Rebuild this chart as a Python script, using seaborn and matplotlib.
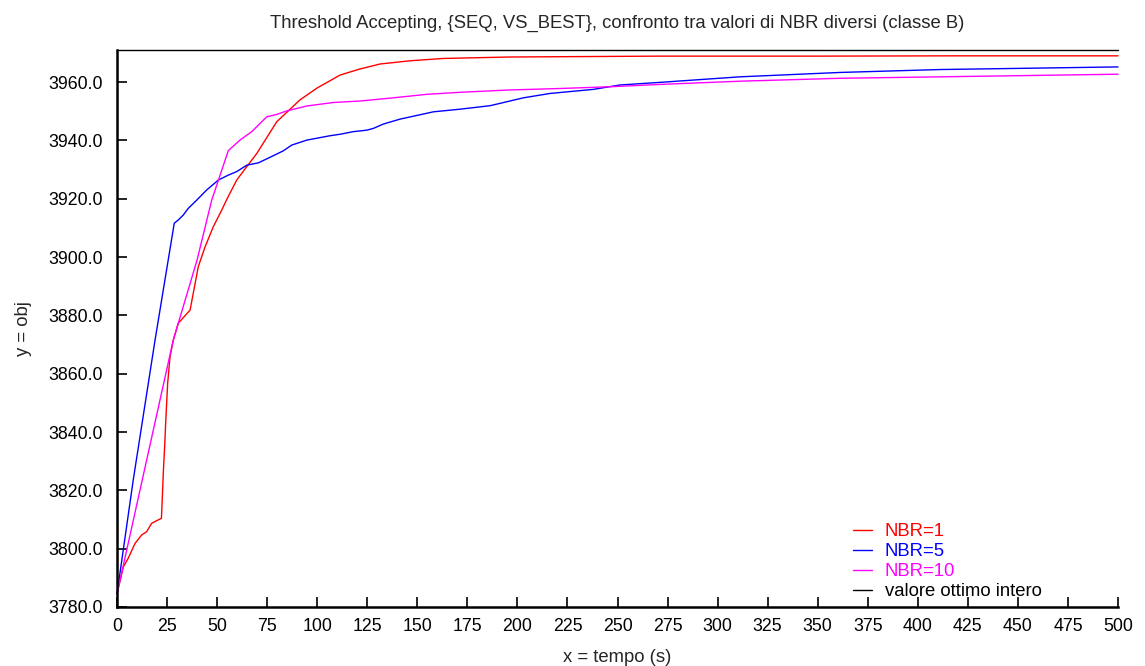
import numpy as np
import pandas as pd
import matplotlib
matplotlib.use("Agg")
import matplotlib.pyplot as plt
import seaborn as sns

# Best objective value over time for each neighbourhood size
t_nbr1 = [0, 3.2, 5.6, 9, 12.3, 14.8, 17.3, 19.8, 22.2, 23.2, 23.8, 24.3, 25.3, 26.5,
          28.1, 30.6, 36.5, 38.1, 40.6, 44, 48.1, 52.3, 55, 59.8, 64.8, 69.8, 79.8,
          91.4, 99.8, 111.4, 121.4, 131.4, 146.4, 163, 196.3, 271.2, 350, 420, 500]
obj_nbr1 = [3784.5, 3793.8, 3796.7, 3801.8, 3804.7, 3805.8, 3808.7, 3809.6, 3810.4,
            3827.0, 3835.0, 3843.0, 3856.7, 3865.8, 3871.5, 3877.3, 3881.8, 3887.6,
            3896.7, 3903.5, 3910.4, 3916.1, 3920.0, 3926.4, 3931.0, 3935.5, 3946.4,
            3953.9, 3957.9, 3962.4, 3964.5, 3966.2, 3967.3, 3968.1, 3968.6, 3968.9,
            3968.9, 3969.0, 3969.0]

t_nbr5 = [0, 8.1, 19, 28.6, 30.6, 33.1, 35.6, 39.8, 44.8, 50.6, 55.6, 59.8, 64.8, 70.6,
          76.4, 83, 87.3, 94.8, 106.4, 111.4, 118, 124.7, 128, 133, 141.4, 158, 171.3,
          186.3, 191.3, 203, 216.3, 238, 251.2, 271.2, 311.2, 361.1, 391, 411, 500]
obj_nbr5 = [3784.5, 3823.5, 3871.5, 3911.6, 3912.7, 3914.4, 3916.7, 3919.5, 3923.0,
            3926.4, 3928.1, 3929.3, 3931.5, 3932.3, 3934.2, 3936.4, 3938.4, 3940.1,
            3941.6, 3942.1, 3943.0, 3943.5, 3944.1, 3945.6, 3947.3, 3949.8, 3950.7,
            3951.9, 3952.7, 3954.6, 3956.1, 3957.5, 3959.0, 3959.9, 3961.8, 3963.3,
            3963.9, 3964.3, 3965.2]

t_nbr10 = [0, 12.3, 28.1, 40, 47.3, 55.6, 61.4, 67.3, 74.8, 79.8, 84.8, 94.8, 108,
           121.4, 138, 154.7, 171.3, 196.3, 221.3, 246.3, 271.2, 311.2, 361.1, 411, 500]
obj_nbr10 = [3784.5, 3822.6, 3871.5, 3899.0, 3919.5, 3936.5, 3940.1, 3943.0, 3948.1,
             3948.9, 3950.1, 3951.8, 3953.0, 3953.5, 3954.6, 3955.8, 3956.5, 3957.3,
             3957.8, 3958.4, 3959.2, 3960.3, 3961.3, 3961.8, 3962.7]

t_opt = [0, 500]
obj_opt = [3971.0, 3971.0]

series_labels = ["NBR=1", "NBR=5", "NBR=10", "valore ottimo intero"]
series_colors = ["#ff0000", "#0000ff", "#ff00ff", "#000000"]

y_ticks = [3780, 3800, 3820, 3840, 3860, 3880, 3900, 3920, 3940, 3960]
x_ticks = list(range(0, 501, 25))

frames = []
for lab, t, v in zip(series_labels,
                     [t_nbr1, t_nbr5, t_nbr10, t_opt],
                     [obj_nbr1, obj_nbr5, obj_nbr10, obj_opt]):
    frames.append(pd.DataFrame({"tempo": t, "obj": v, "serie": lab}))
df = pd.concat(frames, ignore_index=True)

FS = 13.3
TICK_FS = 12.8

sns.set_theme(style="ticks")
plt.rcParams["font.family"] = ["Liberation Sans", "DejaVu Sans"]
plt.rcParams["font.size"] = FS

fig = plt.figure(figsize=(11.45, 6.66), dpi=100)
ax = fig.add_axes([117 / 1145, 1 - 607 / 666, 1001 / 1145, 557 / 666])

sns.lineplot(data=df, x="tempo", y="obj", hue="serie", hue_order=series_labels,
             palette=dict(zip(series_labels, series_colors)), sort=False,
             estimator=None, linewidth=1.0, ax=ax, legend=False)

for line in ax.get_lines():
    line.set_clip_on(False)

ax.set_xlim(0, 500)
ax.set_ylim(3780, 3971)
ax.set_xticks(x_ticks)
ax.set_yticks(y_ticks)
ax.set_yticklabels([f"{v:.1f}" for v in y_ticks])
ax.tick_params(axis="both", direction="in", length=7, width=1.2, colors="black",
               labelsize=TICK_FS, top=False, right=False)
ax.tick_params(axis="x", pad=8)
ax.tick_params(axis="y", pad=10)
for side in ["top", "right"]:
    ax.spines[side].set_visible(False)
for side in ["left", "bottom"]:
    ax.spines[side].set_color("black")
    ax.spines[side].set_linewidth(1.8)

ax.set_xlabel("x = tempo (s)", fontsize=FS, labelpad=10)
ax.set_ylabel("y = obj", fontsize=FS, labelpad=12)
ax.set_title("Threshold Accepting, {SEQ, VS_BEST}, confronto tra valori di NBR diversi (classe B)",
             fontsize=FS, pad=16)

handles = [plt.Line2D([], [], color=c, lw=1.0) for c in series_colors]
leg = ax.legend(handles, series_labels, loc="lower left",
                bbox_to_anchor=(0.735, 0.012), frameon=False, borderpad=0,
                handlelength=1.03, handletextpad=0.7, labelspacing=0.16,
                fontsize=FS, borderaxespad=0)
for txt, c in zip(leg.get_texts(), series_colors):
    txt.set_color(c)

fig.savefig("out.png", dpi=100)
